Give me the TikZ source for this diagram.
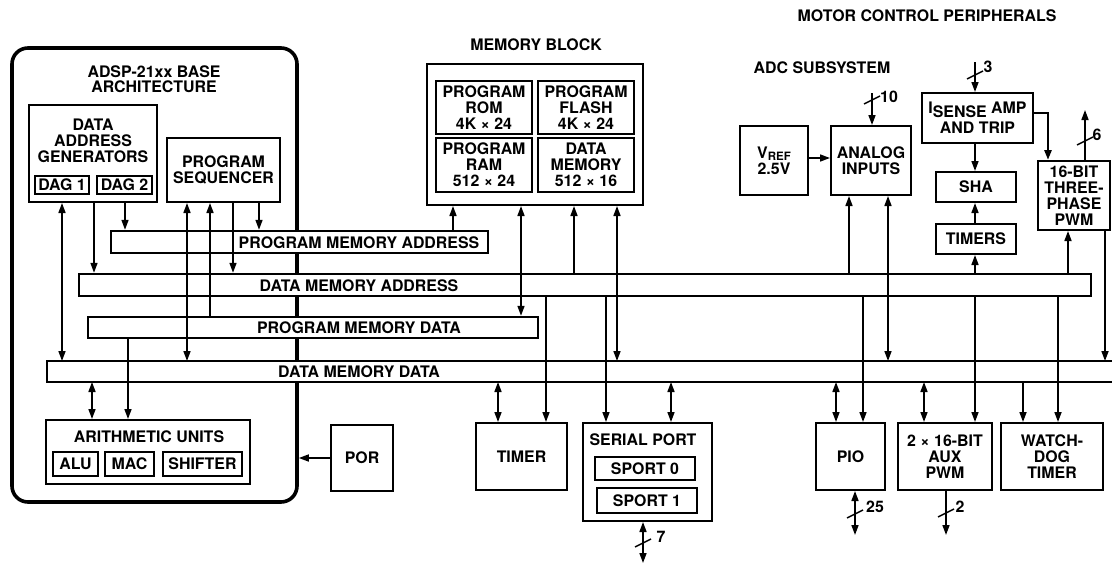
\documentclass[tikz,border=0pt]{standalone}
\usepackage{fontspec}
\setmainfont{TeX Gyre Heros}
\usetikzlibrary{arrows.meta}
\newcommand{\diagfont}{\fontsize{15.9}{16}\selectfont\bfseries}
\begin{document}
\begin{tikzpicture}[x=1pt,y=-1pt,
  txt/.style={font=\diagfont, align=center, inner sep=0pt},
  box/.style={txt, draw, line width=2pt},
  bus/.style={draw, fill=white, line width=2.4pt, inner sep=0pt},
  con/.style={line width=1.6pt},
  arr/.style={con, -{Triangle[length=10pt,width=7pt]}},
  darr/.style={con, {Triangle[length=10pt,width=7pt]}-{Triangle[length=10pt,width=7pt]}},
  slash/.style={line width=1.4pt}]
\useasboundingbox (0,0) rectangle (1112,565);

% base architecture frame
\node[draw, line width=3.6pt, rounded corners=16pt, minimum width=285pt, minimum height=454pt, inner sep=0pt] (base) at (154.5,275) {};
\node[txt] (tbase) at (154,79.5) {ADSP-21xx BASE\\[-1pt]ARCHITECTURE};

% buses
\node[bus, minimum width=377pt, minimum height=22pt] (pma) at (299.5,242) {};
\node[bus, minimum width=1012pt, minimum height=22pt] (dma) at (585,285) {};
\node[bus, minimum width=450pt, minimum height=21pt] (pmd) at (313,327.5) {};
\node[bus, draw=none, outer sep=0pt, minimum width=1070pt, minimum height=21pt] (dmd) at (582,371.5) {};
\draw[line width=2.4pt, line join=miter] (dmd.north east) -- (dmd.north west) -- (dmd.south west) -- (dmd.south east);
\node[txt] (tpma) at (359,242.5) {PROGRAM MEMORY ADDRESS};
\node[txt] (tdma) at (359,285.5) {DATA MEMORY ADDRESS};
\node[txt] (tpmd) at (359,328) {PROGRAM MEMORY DATA};
\node[txt] (tdmd) at (359,372) {DATA MEMORY DATA};

% DAG and sequencer
\node[box, minimum width=128pt, minimum height=97pt] (dag) at (93,153.5) {};
\node[txt] (tdag) at (93,141) {DATA\\ADDRESS\\GENERATORS};
\node[box, minimum width=54pt, minimum height=18pt] (dag1) at (62,185) {DAG 1};
\node[box, minimum width=55pt, minimum height=18pt] (dag2) at (124.5,185) {DAG 2};
\node[box, minimum width=113pt, minimum height=64pt] (ps) at (223.5,170) {PROGRAM\\SEQUENCER};

% memory block
\node[txt] (tmem) at (536,45) {MEMORY BLOCK};
\node[box, minimum width=216pt, minimum height=141pt] (mem) at (535,134.5) {};
\node[box, minimum width=96pt, minimum height=53pt] (rom) at (484,107.5) {PROGRAM\\ROM\\4K × 24};
\node[box, minimum width=96pt, minimum height=53pt] (flash) at (586,107.5) {PROGRAM\\FLASH\\4K × 24};
\node[box, minimum width=96pt, minimum height=54pt] (ram) at (484,165) {PROGRAM\\RAM\\512 × 24};
\node[box, minimum width=96pt, minimum height=54pt] (dmem) at (586,165) {DATA\\MEMORY\\512 × 16};

% motor control peripherals
\node[txt] (tmcp) at (927,16) {MOTOR CONTROL PERIPHERALS};
\node[txt] (tadc) at (822,68) {ADC SUBSYSTEM};
\node[box, minimum width=68pt, minimum height=69pt] (vref) at (774,160.5) {V\raisebox{-2pt}{\fontsize{11.5}{12}\selectfont REF}\\2.5V};
\node[box, minimum width=80pt, minimum height=69pt] (analog) at (871,160.5) {ANALOG\\INPUTS};
\node[box, minimum width=111pt, minimum height=50pt] (isense) at (977.5,118) {I\raisebox{-4pt}{SENSE} AMP\\[4pt]AND TRIP};
\node[box, minimum width=80pt, minimum height=30pt] (sha) at (976,187) {SHA};
\node[box, minimum width=80pt, minimum height=30pt] (timers) at (976,239) {TIMERS};
\node[box, minimum width=72pt, minimum height=69pt] (pwm) at (1074,195.5) {16-BIT\\THREE-\\PHASE\\PWM};

% arithmetic units
\node[box, minimum width=204pt, minimum height=64pt] (arith) at (148,452) {};
\node[txt] (tarith) at (149,437) {ARITHMETIC UNITS};
\node[box, minimum width=45pt, minimum height=24pt] (alu) at (75.5,464) {ALU};
\node[box, minimum width=49pt, minimum height=24pt] (mac) at (129.5,464) {MAC};
\node[box, minimum width=79pt, minimum height=24pt] (shifter) at (202.5,464) {SHIFTER};

% bottom peripherals
\node[box, minimum width=62pt, minimum height=66pt] (por) at (362,458) {POR};
\node[box, minimum width=91pt, minimum height=67pt] (timer) at (521.5,456.5) {TIMER};
\node[box, minimum width=129pt, minimum height=98pt] (sp) at (647.5,472) {};
\node[txt] (tsp) at (643,440) {SERIAL PORT};
\node[box, minimum width=100pt, minimum height=23pt] (sp0) at (645,468.5) {SPORT 0};
\node[box, minimum width=100pt, minimum height=25pt] (sp1) at (647,500.5) {SPORT 1};
\node[box, minimum width=69pt, minimum height=67pt] (pio) at (850.5,456.5) {PIO};
\node[box, minimum width=94pt, minimum height=67pt] (aux) at (945,456.5) {2 × 16-BIT\\AUX\\PWM};
\node[box, minimum width=102pt, minimum height=67pt] (wd) at (1052,456.5) {WATCH-\\DOG\\TIMER};

% free ends
\coordinate (e10) at (872,93);
\coordinate (e3) at (975,62);
\coordinate (e6) at (1085,110);
\coordinate (e7) at (643,563);
\coordinate (e25) at (855,535);
\coordinate (e2) at (946,535);

% core connectors
\draw[darr] (dag.south -| 62,0) -- (dmd.north -| 62,0);
\draw[arr] (dag.south -| 94,0) -- (dma.north -| 94,0);
\draw[arr] (dag.south -| 125,0) -- (pma.north -| 125,0);
\draw[darr] (ps.south -| 187,0) -- (dmd.north -| 187,0);
\draw[arr] (pmd.north -| 210,0) -- (ps.south -| 210,0);
\draw[arr] (ps.south -| 233,0) -- (dma.north -| 233,0);
\draw[arr] (ps.south -| 259,0) -- (pma.north -| 259,0);
\draw[darr] (dmd.south -| 92,0) -- (arith.north -| 92,0);
\draw[arr] (pmd.south -| 128,0) -- (arith.north -| 128,0);
\draw[arr] (por.west) -- (por.west -| base.east);

% memory connectors
\draw[arr] (pma.north -| 453,0) -- (mem.south -| 453,0);
\draw[darr] (mem.south -| 521,0) -- (pmd.north -| 521,0);
\draw[arr] (dma.north -| 574,0) -- (mem.south -| 574,0);
\draw[darr] (mem.south -| 617,0) -- (dmd.north -| 617,0);

% timer and serial port
\draw[darr] (dmd.south -| 498,0) -- (timer.north -| 498,0);
\draw[arr] (dma.south -| 546,0) -- (timer.north -| 546,0);
\draw[arr] (dma.south -| 606,0) -- (sp.north -| 606,0);
\draw[darr] (dmd.south -| 671,0) -- (sp.north -| 671,0);
\draw[darr] (sp.south -| 643,0) -- (e7);
\draw[slash] (635,547) -- (651,539);
\node[txt] (n7) at (661,537) {7};

% ADC subsystem
\draw[arr] (dma.north -| 849,0) -- (analog.south -| 849,0);
\draw[darr] (analog.south -| 888,0) -- (dmd.north -| 888,0);
\draw[arr] (vref.east |- 0,158) -- (analog.west |- 0,158);
\draw[arr] (e10) -- (analog.north -| 872,0);
\draw[slash] (864,104) -- (880,96);
\node[txt] (n10) at (889,97) {10};

% current sense, PWM
\draw[arr] (e3) -- (isense.north -| 975,0);
\draw[slash] (967,79) -- (983,71);
\node[txt] (n3) at (988,67) {3};
\draw[arr] (isense.south -| 975,0) -- (sha.north -| 975,0);
\draw[arr] (timers.north -| 975,0) -- (sha.south -| 975,0);
\draw[arr] (dma.north -| 975,0) -- (timers.south -| 975,0);
\draw[arr, line width=2.5pt] (isense.east |- 0,113) -| (pwm.north -| 1048,0);
\draw[arr] (pwm.north -| 1085,0) -- (e6);
\draw[slash] (1077,145) -- (1093,137);
\node[txt] (n6) at (1097,135) {6};
\draw[arr] (dma.north -| 1068,0) -- (pwm.south -| 1068,0);
\draw[arr] (pwm.south -| 1105,0) -- (dmd.north -| 1105,0);

% PIO, AUX PWM, watchdog
\draw[darr] (dmd.south -| 836,0) -- (pio.north -| 836,0);
\draw[arr] (dma.south -| 863,0) -- (pio.north -| 863,0);
\draw[darr] (pio.south -| 855,0) -- (e25);
\draw[slash] (847,518) -- (863,510);
\node[txt] (n25) at (875,507) {25};
\draw[darr] (dmd.south -| 924,0) -- (aux.north -| 924,0);
\draw[arr] (dma.south -| 975,0) -- (aux.north -| 975,0);
\draw[arr] (aux.south -| 946,0) -- (e2);
\draw[slash] (938,517) -- (954,509);
\node[txt] (n2) at (960,507) {2};
\draw[arr] (dmd.south -| 1023,0) -- (wd.north -| 1023,0);
\draw[arr] (dma.south -| 1058,0) -- (wd.north -| 1058,0);
\end{tikzpicture}
\end{document}
